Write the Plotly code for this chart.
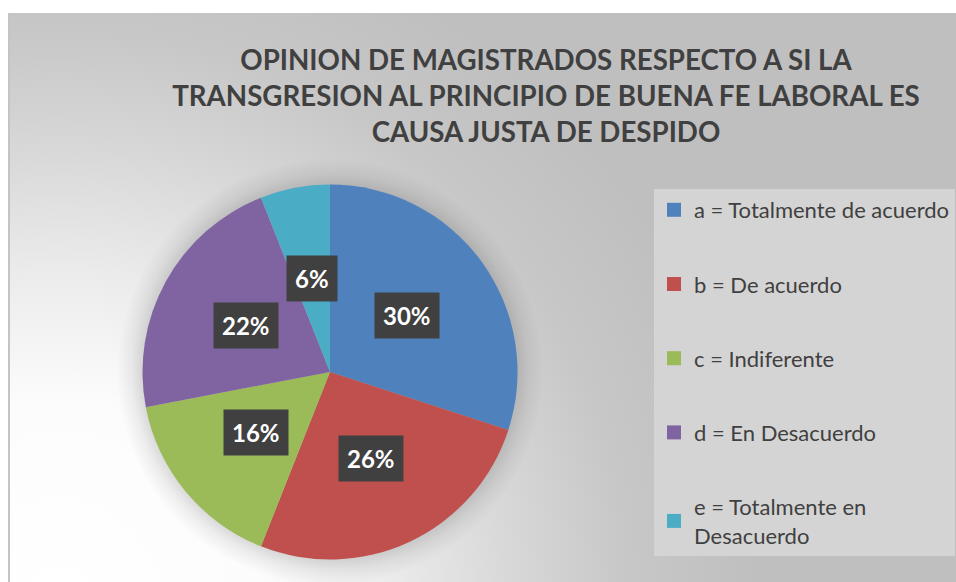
import plotly.graph_objects as go
import math

# datos del gráfico
categorias = [
    "a = Totalmente de acuerdo",
    "b = De acuerdo",
    "c = Indiferente",
    "d = En Desacuerdo",
    "e = Totalmente en<br>Desacuerdo",
]
porcentajes = [30, 26, 16, 22, 6]
etiquetas = ["30%", "26%", "16%", "22%", "6%"]
colores = ["#4F81BD", "#C0504D", "#9BBB59", "#8064A2", "#4BACC6"]

titulo = ("OPINION DE MAGISTRADOS RESPECTO A SI LA<br>"
          "TRANSGRESION AL PRINCIPIO DE BUENA FE LABORAL ES<br>"
          "CAUSA JUSTA DE DESPIDO")

W, H = 956, 582
# geometría en píxeles
cx, cy, R = 330, 372, 187.5
x0_area, y0_area = 9, 13

fig = go.Figure()

# fondo con degradado radial (blanco abajo a la izquierda)
bx, by, bs = 60, 600, 1000
fig.add_trace(go.Scatter(
    x=[bx - bs, bx + bs, bx + bs, bx - bs, bx - bs],
    y=[by - bs, by - bs, by + bs, by + bs, by - bs],
    mode="lines", line=dict(width=0), fill="toself",
    fillgradient=dict(type="radial", colorscale=[
        [0, "#ffffff"], [0.2, "#fcfcfc"], [0.33, "#ebebeb"],
        [0.45, "#d8d8d8"], [0.57, "#c7c7c7"], [0.7, "#bfbfbf"], [1, "#bfbfbf"],
    ]),
    showlegend=False, hoverinfo="skip",
))

# sombra del pastel
ss = R + 26
fig.add_trace(go.Scatter(
    x=[cx - ss, cx + ss, cx + ss, cx - ss, cx - ss],
    y=[cy - ss, cy - ss, cy + ss, cy + ss, cy - ss],
    mode="lines", line=dict(width=0), fill="toself",
    fillgradient=dict(type="radial", colorscale=[
        [0, "rgba(0,0,0,0.25)"], [0.86, "rgba(0,0,0,0.16)"],
        [0.93, "rgba(0,0,0,0.06)"], [1, "rgba(0,0,0,0)"],
    ]),
    showlegend=False, hoverinfo="skip",
))

# entradas de leyenda
for i, (cat, col) in enumerate(zip(categorias, colores)):
    fig.add_trace(go.Scatter(
        x=[None], y=[None], mode="markers", name=cat,
        marker=dict(symbol="square", size=14, color=col),
        legendgroup=f"g{i}",
    ))

fig.add_trace(go.Pie(
    values=porcentajes,
    labels=categorias,
    marker=dict(colors=colores, line=dict(width=0)),
    sort=False,
    direction="clockwise",
    rotation=0,
    textinfo="none",
    showlegend=False,
    hoverinfo="label+percent",
    domain=dict(
        x=[(cx - R) / W, (cx + R) / W],
        y=[(H - cy - R) / H, (H - cy + R) / H],
    ),
))

# etiquetas de porcentaje con recuadro oscuro
total = sum(porcentajes)
acum = 0
for val, txt in zip(porcentajes, etiquetas):
    ang = (acum + val / 2) / total * 2 * math.pi
    acum += val
    px = cx + 0.51 * R * math.sin(ang)
    py = cy - 0.51 * R * math.cos(ang)
    fig.add_annotation(
        x=px, y=py, xref="x", yref="y", text=txt, showarrow=False,
        font=dict(family="Lato", size=24, color="#ffffff", weight="bold"),
        bgcolor="#404040", borderpad=8,
    )

# borde izquierdo del área del gráfico
fig.add_shape(type="line", xref="paper", yref="paper",
              x0=x0_area / W, x1=x0_area / W, y0=0, y1=1 - y0_area / H,
              line=dict(color="#c4c4c4", width=2))

fig.update_layout(
    width=W, height=H,
    margin=dict(l=0, r=0, t=0, b=0),
    paper_bgcolor="#ffffff",
    plot_bgcolor="rgba(0,0,0,0)",
    font=dict(family="Lato", color="#404040"),
    title=dict(
        text=titulo, x=546 / W, xanchor="center", xref="paper",
        y=1 - 70 / H, yanchor="top", yref="paper",
        font=dict(family="Lato", size=27.7, color="#404040", weight="bold"),
    ),
    xaxis=dict(domain=[x0_area / W, 1], range=[x0_area, W], visible=False, fixedrange=True),
    yaxis=dict(domain=[0, 1 - y0_area / H], range=[H, y0_area], visible=False, fixedrange=True),
    showlegend=True,
    legend=dict(
        x=654 / W, xanchor="left", y=1 - 189 / H, yanchor="top",
        bgcolor="#d4d4d4", borderwidth=0,
        font=dict(family="Lato", size=22, color="#404040"),
        tracegroupgap=42.6, itemclick=False, itemdoubleclick=False,
    ),
    hovermode="closest",
)

fig.write_html("out.html", config={"displayModeBar": False},
               post_script="document.body.style.margin='0px';")
